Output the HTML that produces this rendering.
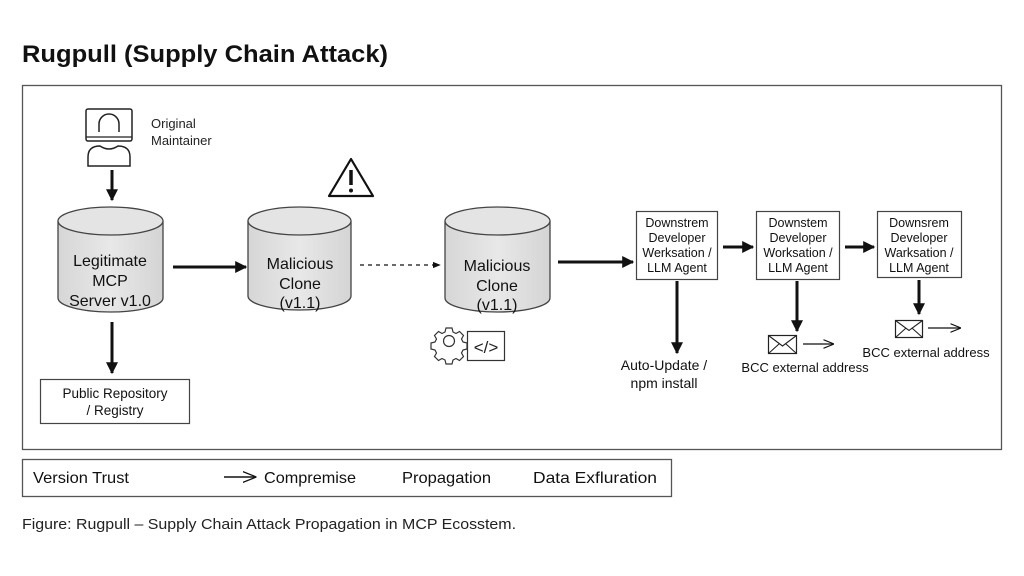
<!DOCTYPE html>
<html><head><meta charset="utf-8"><style>
html,body{margin:0;padding:0;background:#fff;}
svg{display:block;font-family:"Liberation Sans",sans-serif;}
</style></head><body>
<svg width="1024" height="576" viewBox="0 0 1024 576" xmlns="http://www.w3.org/2000/svg">
<defs>
<marker id="ah" viewBox="0 0 10 10" refX="9" refY="5" markerWidth="4" markerHeight="4" orient="auto-start-reverse"><path d="M0,0 L10,5 L0,10 z" fill="#111"/></marker>
<marker id="ahs" viewBox="0 0 10 10" refX="9" refY="5" markerWidth="6" markerHeight="6" orient="auto"><path d="M0,1 L10,5 L0,9 z" fill="#111"/></marker>
<marker id="ahl" viewBox="0 0 10 10" refX="9" refY="5" markerWidth="9" markerHeight="9" orient="auto"><path d="M0,1 L10,5 L0,9" fill="none" stroke="#111" stroke-width="1"/></marker>
<linearGradient id="cg" x1="0" x2="1"><stop offset="0" stop-color="#d6d6d6"/><stop offset="0.5" stop-color="#e8e8e8"/><stop offset="1" stop-color="#d4d4d4"/></linearGradient>
</defs>
<rect width="1024" height="576" fill="#fff"/>
<text x="22" y="62" font-size="24" font-weight="bold" fill="#111" textLength="366" lengthAdjust="spacingAndGlyphs">Rugpull (Supply Chain Attack)</text>
<rect x="22.5" y="85.5" width="979" height="364" fill="#fff" stroke="#555" stroke-width="1.3"/>

<!-- person -->
<rect x="86" y="109" width="46" height="32" rx="2" fill="#fff" stroke="#222" stroke-width="1.5"/>
<line x1="86" y1="137" x2="132" y2="137" stroke="#222" stroke-width="1.2"/>
<path d="M99,132 V124 A10,10 0 0 1 119,124 V132" fill="none" stroke="#222" stroke-width="1.5"/>
<path d="M88,166 V157 Q88,146 100,146 Q109,152 118,146 Q130,146 130,157 V166 Z" fill="#fff" stroke="#222" stroke-width="1.5"/>
<text x="151" y="128" font-size="13" fill="#222">Original</text>
<text x="151" y="145" font-size="13" fill="#222">Maintainer</text>
<line x1="112" y1="170" x2="112" y2="200" stroke="#111" stroke-width="3" marker-end="url(#ah)"/>

<!-- cylinders -->
<g stroke="#444" stroke-width="1.3">
<path d="M58,221 V298 A52.5,14 0 0 0 163,298 V221" fill="url(#cg)"/>
<ellipse cx="110.5" cy="221" rx="52.5" ry="14" fill="#e4e4e4"/>
<path d="M248,221 V296 A51.5,14 0 0 0 351,296 V221" fill="url(#cg)"/>
<ellipse cx="299.5" cy="221" rx="51.5" ry="14" fill="#e4e4e4"/>
<path d="M445,221 V298 A52.5,14 0 0 0 550,298 V221" fill="url(#cg)"/>
<ellipse cx="497.5" cy="221" rx="52.5" ry="14" fill="#e4e4e4"/>
</g>
<g font-size="16" fill="#111" text-anchor="middle">
<text x="110" y="266">Legitimate</text><text x="110" y="286">MCP</text><text x="110" y="306">Server v1.0</text>
<text x="300" y="269">Malicious</text><text x="300" y="289">Clone</text><text x="300" y="308">(v1.1)</text>
<text x="497" y="271">Malicious</text><text x="497" y="291">Clone</text><text x="497" y="310">(v1.1)</text>
</g>

<line x1="112" y1="322" x2="112" y2="373" stroke="#111" stroke-width="3" marker-end="url(#ah)"/>
<rect x="40.5" y="379.5" width="149" height="44" fill="#fff" stroke="#444" stroke-width="1.2"/>
<text x="115" y="398" font-size="13.5" text-anchor="middle" fill="#111">Public Repository</text>
<text x="115" y="415" font-size="13.5" text-anchor="middle" fill="#111">/ Registry</text>

<line x1="173" y1="267" x2="246" y2="267" stroke="#111" stroke-width="3" marker-end="url(#ah)"/>
<!-- warning -->
<path d="M351,159 L373,196 L329,196 Z" fill="#fff" stroke="#111" stroke-width="2.2" stroke-linejoin="round"/>
<line x1="351" y1="170" x2="351" y2="185" stroke="#111" stroke-width="3.5"/>
<circle cx="351" cy="190.5" r="2" fill="#111"/>
<line x1="360" y1="265" x2="440" y2="265" stroke="#111" stroke-width="1.3" stroke-dasharray="4,4" marker-end="url(#ahs)"/>

<!-- gear & code -->
<g transform="translate(449,341)" fill="none" stroke="#333" stroke-width="1.2">
<path d="M-3,-13 h6 l1,4 l3,1.5 l3.5,-2 l4,4 l-2,3.5 l1.5,3 l4,1 v6 l-4,1 l-1.5,3 l2,3.5 l-4,4 l-3.5,-2 l-3,1.5 l-1,4 h-6 l-1,-4 l-3,-1.5 l-3.5,2 l-4,-4 l2,-3.5 l-1.5,-3 l-4,-1 v-6 l4,-1 l1.5,-3 l-2,-3.5 l4,-4 l3.5,2 l3,-1.5 z"/>
<circle cx="0" cy="0" r="5.5"/>
</g>
<rect x="467.5" y="331.5" width="37" height="29" fill="#fff" stroke="#333" stroke-width="1.2"/>
<text x="486" y="353" font-size="17" text-anchor="middle" fill="#222">&lt;/&gt;</text>

<line x1="558" y1="262" x2="633" y2="262" stroke="#111" stroke-width="3" marker-end="url(#ah)"/>

<!-- boxes -->
<g fill="#fff" stroke="#444" stroke-width="1.2">
<rect x="636.5" y="211.5" width="81" height="68"/>
<rect x="756.5" y="211.5" width="83" height="68"/>
<rect x="877.5" y="211.5" width="84" height="66"/>
</g>
<g font-size="12.5" fill="#111" text-anchor="middle">
<text x="677" y="227">Downstrem</text><text x="677" y="242">Developer</text><text x="677" y="257">Werksation /</text><text x="677" y="272">LLM Agent</text>
<text x="798" y="227">Downstem</text><text x="798" y="242">Developer</text><text x="798" y="257">Worksation /</text><text x="798" y="272">LLM Agent</text>
<text x="919" y="227">Downsrem</text><text x="919" y="242">Developer</text><text x="919" y="257">Warksation /</text><text x="919" y="272">LLM Agent</text>
</g>
<line x1="723" y1="247" x2="753" y2="247" stroke="#111" stroke-width="3" marker-end="url(#ah)"/>
<line x1="845" y1="247" x2="874" y2="247" stroke="#111" stroke-width="3" marker-end="url(#ah)"/>

<line x1="677" y1="281" x2="677" y2="353" stroke="#111" stroke-width="3" marker-end="url(#ah)"/>
<text x="664" y="370" font-size="14" text-anchor="middle" fill="#111">Auto-Update /</text>
<text x="664" y="388" font-size="14" text-anchor="middle" fill="#111">npm install</text>

<line x1="797" y1="281" x2="797" y2="331" stroke="#111" stroke-width="3" marker-end="url(#ah)"/>
<rect x="768.5" y="335.5" width="28" height="18" fill="#fff" stroke="#222" stroke-width="1.2"/>
<path d="M768.5,335.5 L782.5,346 L796.5,335.5 M768.5,353.5 L779,344 M796.5,353.5 L786,344" fill="none" stroke="#222" stroke-width="1.1"/>
<line x1="803" y1="344" x2="833" y2="344" stroke="#111" stroke-width="1.2" marker-end="url(#ahl)"/>
<text x="805" y="372" font-size="13" text-anchor="middle" fill="#111">BCC external address</text>

<line x1="919" y1="280" x2="919" y2="314" stroke="#111" stroke-width="3" marker-end="url(#ah)"/>
<rect x="895.5" y="320.5" width="27" height="17" fill="#fff" stroke="#222" stroke-width="1.2"/>
<path d="M895.5,320.5 L909,330.5 L922.5,320.5 M895.5,337.5 L905.5,328.5 M922.5,337.5 L912.5,328.5" fill="none" stroke="#222" stroke-width="1.1"/>
<line x1="928" y1="328" x2="960" y2="328" stroke="#111" stroke-width="1.2" marker-end="url(#ahl)"/>
<text x="926" y="357" font-size="13" text-anchor="middle" fill="#111">BCC external address</text>

<!-- legend -->
<rect x="22.5" y="459.5" width="649" height="37" fill="#fff" stroke="#555" stroke-width="1.3"/>
<g font-size="16" fill="#111">
<text x="33" y="483" textLength="96" lengthAdjust="spacingAndGlyphs">Version Trust</text>
<text x="264" y="483" textLength="92" lengthAdjust="spacingAndGlyphs">Compremise</text>
<text x="402" y="483" textLength="89" lengthAdjust="spacingAndGlyphs">Propagation</text>
<text x="533" y="483" textLength="124" lengthAdjust="spacingAndGlyphs">Data Exfluration</text>
</g>
<line x1="224" y1="477" x2="255" y2="477" stroke="#111" stroke-width="1.5" marker-end="url(#ahl)"/>

<text x="22" y="529" font-size="15" fill="#222" textLength="494" lengthAdjust="spacingAndGlyphs">Figure: Rugpull – Supply Chain Attack Propagation in MCP Ecosstem.</text>
</svg>
</body></html>
